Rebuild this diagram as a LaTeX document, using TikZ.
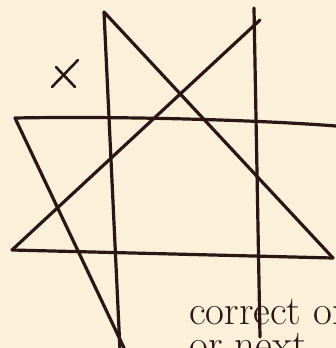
\documentclass[tikz,border=0pt]{standalone}
\usetikzlibrary{calc}
\definecolor{paper}{HTML}{FBF1DA}
\definecolor{ink}{HTML}{2B1616}

\begin{document}
\begin{tikzpicture}[x=1pt,y=-1pt,line cap=round,line join=round]
  \fill[paper] (0,0) rectangle (336,348);
  \useasboundingbox (0,0) rectangle (336,348);
  \clip (0,0) rectangle (336,348);
  % star corners
  \coordinate (topL) at (104,12);
  \coordinate (topR) at (260,20);
  \coordinate (midL) at (15,118);
  \coordinate (midR) at (336,126);
  \coordinate (lowL) at (12,250);
  \coordinate (lowR) at (333,258);
  \coordinate (botL) at (125,350);
  \coordinate (botV) at (120,350);
  \coordinate (vR1) at (254,8);
  \coordinate (vR2) at (260,337);
  \begin{scope}[ink,line width=3.2pt]
    \draw (topL) -- (botV);
    \draw (vR1) -- (vR2);
    \draw (midL) .. controls (120,116) and (260,120) .. (midR);
    \draw (lowL) -- (lowR);
    \draw (topL) -- (lowR);
    \draw (lowL) -- (topR);
    \draw (midL) -- (botL);
    % cross mark
    \draw[line width=2.6pt] (52,87) -- (78,60);
    \draw[line width=2.6pt] (56,67) -- (75,87);
  \end{scope}
  \node[ink,font=\fontsize{41}{34}\selectfont,anchor=base west,align=left,inner sep=0pt]
       (note) at (189,358) {correct or\\ or next};
\end{tikzpicture}
\end{document}
